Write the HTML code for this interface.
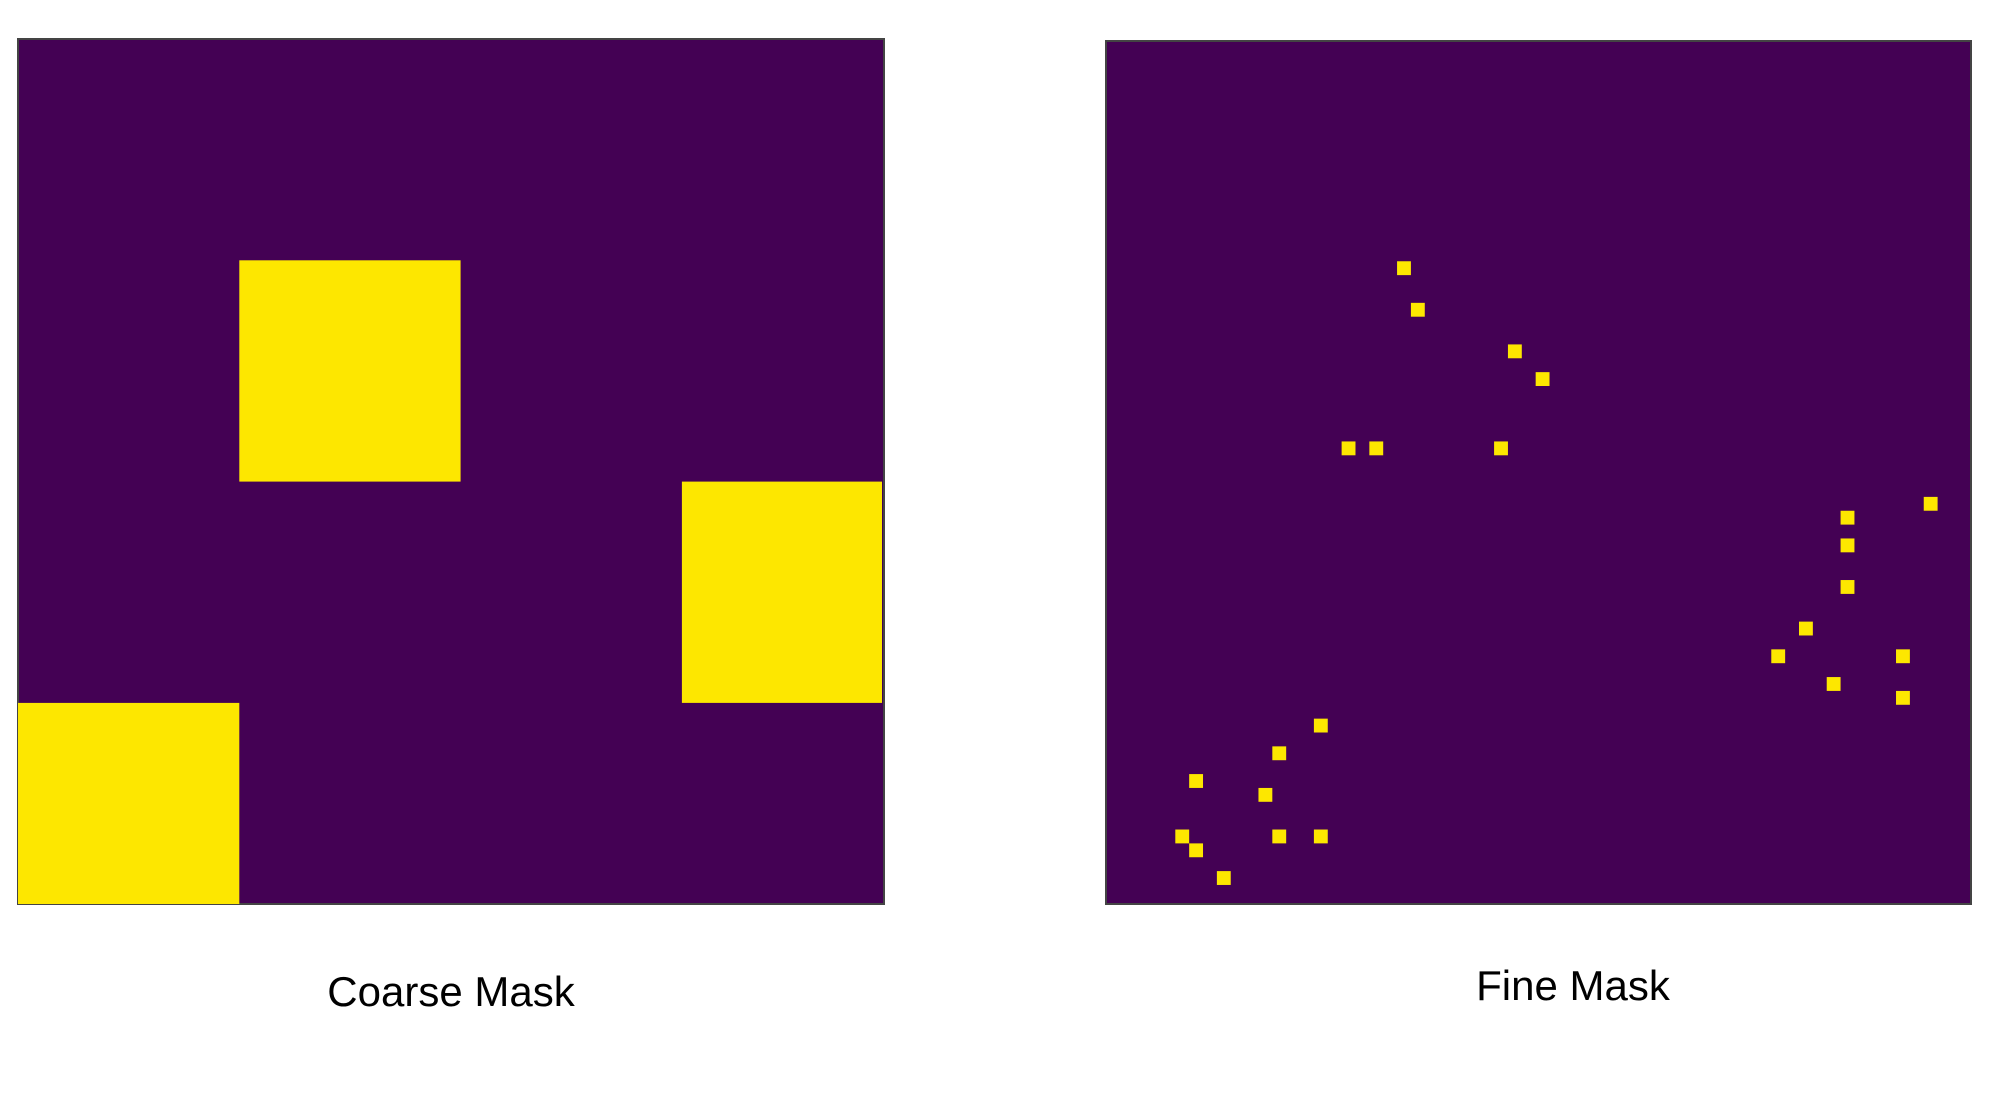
<!DOCTYPE html>
<html><head><meta charset="utf-8"><style>
html,body{margin:0;padding:0;background:#fff;width:1994px;height:1104px;overflow:hidden}
svg{display:block}
</style></head><body>
<svg id="fig" width="1994" height="1104" viewBox="0 0 1994 1104" xmlns="http://www.w3.org/2000/svg">
  <defs>
    <clipPath id="clipC"><rect x="18" y="39" width="864" height="865"/></clipPath>
    <clipPath id="clipF"><rect x="1106" y="41" width="865" height="863"/></clipPath>
  </defs>
  <rect x="18" y="39" width="866" height="865" fill="#440154" stroke="#444" stroke-width="2"/>
  <g id="coarseG" clip-path="url(#clipC)"></g>
  <rect x="1106" y="41" width="865" height="863" fill="#440154" stroke="#444" stroke-width="2"/>
  <g id="fineG" clip-path="url(#clipF)"></g>
  <text x="451" y="1006" text-anchor="middle" font-family="Liberation Sans, sans-serif" font-size="42" fill="#000">Coarse Mask</text>
  <text x="1573" y="1000" text-anchor="middle" font-family="Liberation Sans, sans-serif" font-size="42" fill="#000">Fine Mask</text>
</svg>
<script>
const coarseCols = [1, 3, 0];
const coarseRows = [1, 2, 3];
const fineCols = [21,22,29,31,17,19,28,59,53,53,53,50,48,57,52,57,15,12,6,11,5,12,15,6,8];
const fineRows = [16,19,22,24,29,29,29,33,34,36,39,42,44,44,46,47,49,51,53,54,57,57,57,58,60];

const NS = 'http://www.w3.org/2000/svg';
const cCell = 221.3, cX0 = 18, cY0 = 39;
const fCell = 13.86, fX0 = 1106, fY0 = 39.5;
function cx(i){ return cX0 + i * cCell; }
function cy(j){ return cY0 + j * cCell; }
function fx(i){ return fX0 + i * fCell; }
function fy(j){ return fY0 + j * fCell; }

const cg = document.getElementById('coarseG');
for (let k = 0; k < coarseCols.length; k++) {
  const r = document.createElementNS(NS, 'rect');
  r.setAttribute('x', cx(coarseCols[k]));
  r.setAttribute('y', cy(coarseRows[k]));
  r.setAttribute('width', cCell);
  r.setAttribute('height', cCell);
  r.setAttribute('fill', '#fde700');
  
  
  cg.appendChild(r);
}
const fg = document.getElementById('fineG');
for (let k = 0; k < fineCols.length; k++) {
  const r = document.createElementNS(NS, 'rect');
  r.setAttribute('x', fx(fineCols[k]));
  r.setAttribute('y', fy(fineRows[k]));
  r.setAttribute('width', fCell);
  r.setAttribute('height', fCell);
  r.setAttribute('fill', '#fde700');
  
  
  fg.appendChild(r);
}
</script>
</body></html>
